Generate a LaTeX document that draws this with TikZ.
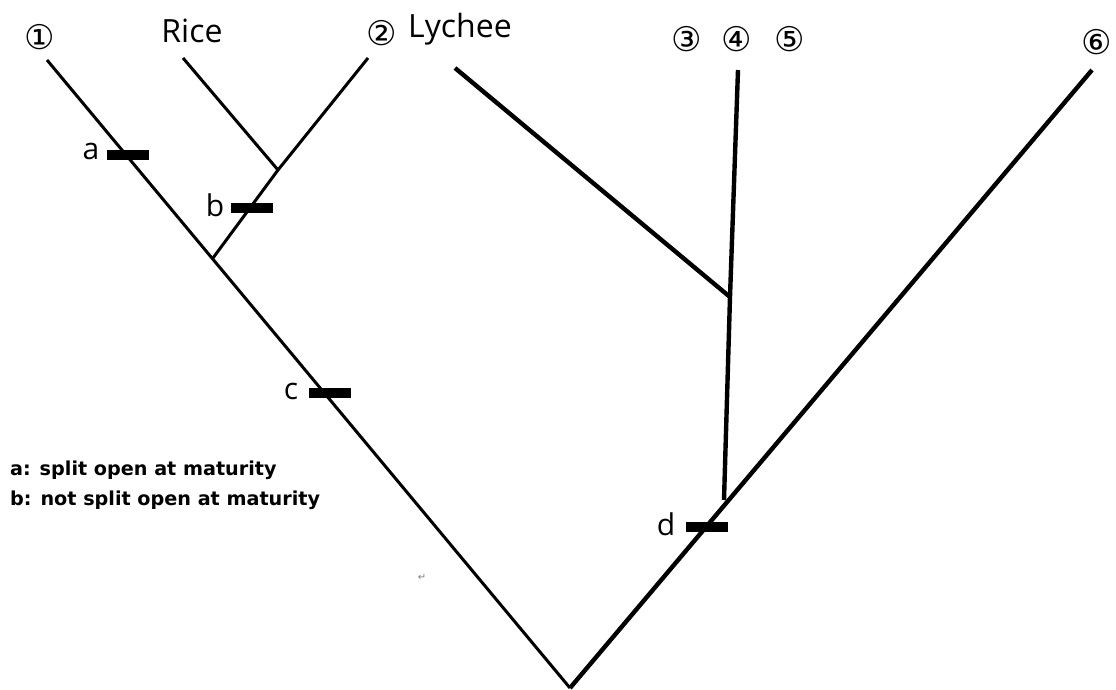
\documentclass[tikz,border=0pt]{standalone}
\usepackage{fontspec}
\setmainfont{Open Sans}
\newfontfamily\circfont{DejaVu Sans}
\begin{document}
\begin{tikzpicture}[x=1pt,y=-1pt,
  thin branch/.style={line width=3pt},
  thick branch/.style={line width=4.4pt},
  trait/.style={line width=10pt},
  taxon/.style={font=\fontsize{32}{34}\selectfont, inner sep=0pt},
  circnum/.style={font=\circfont\fontsize{34}{36}\selectfont, inner sep=0pt},
  traitlbl/.style={font=\fontsize{30}{32}\selectfont, inner sep=0pt},
  legend/.style={font=\circfont\bfseries\fontsize{19.2}{22}\selectfont, inner sep=0pt, anchor=west}]
\useasboundingbox (0,0) rectangle (1116,690);
% coordinates
\coordinate (root) at (570,688);
\coordinate (t1) at (47,60);
\coordinate (nAB) at (213,258);
\coordinate (nRice) at (278,170);
\coordinate (tRice) at (183,58);
\coordinate (t2) at (368,58);
\coordinate (tLy) at (455,68);
\coordinate (nLy) at (730,297);
\coordinate (t4) at (738,70);
\coordinate (nR) at (724,500);
\coordinate (t6) at (1092,70);
% branches
\draw[thin branch] (t1) -- (root);
\draw[thin branch] (nAB) -- (nRice) -- (t2);
\draw[thin branch] (tRice) -- (nRice);
\draw[thick branch] (root) -- (t6);
\draw[thick branch] (nR) -- (nLy) -- (t4);
\draw[thick branch] (tLy) -- (nLy);
% trait bars
\coordinate (ma) at (128,155);
\coordinate (mb) at (252,208);
\coordinate (mc) at (330,393);
\coordinate (md) at (707,527);
\draw[trait] ([xshift=-21pt]ma) -- ([xshift=21pt]ma);
\draw[trait] ([xshift=-21pt]mb) -- ([xshift=21pt]mb);
\draw[trait] ([xshift=-21pt]mc) -- ([xshift=21pt]mc);
\draw[trait] ([xshift=-21pt]md) -- ([xshift=21pt]md);
\node[traitlbl] (la) at (91,151) {a};
\node[traitlbl] (lb) at (215,205) {b};
\node[traitlbl] (lc) at (291,391) {c};
\node[traitlbl] (ld) at (666,524) {d};
% taxa labels
\node[taxon] (rice) at (192,31) {Rice};
\node[taxon, anchor=west] (ly) at (408,29) {Lychee};
\node[circnum] (c1) at (40,37) {①};
\node[circnum] (c2) at (382,33) {②};
\node[circnum] (c3) at (687,39) {③};
\node[circnum] (c4) at (737,39) {④};
\node[circnum] (c5) at (790,39) {⑤};
\node[circnum] (c6) at (1097,42) {⑥};
% legend
\node[legend] (leg1) at (10,470) {a: split open at maturity};
\node[legend] (leg2) at (10,500) {b: not split open at maturity};
\node[font=\circfont\fontsize{10}{12}\selectfont, text=gray, inner sep=0pt] (ret) at (422,577) {↵};
\end{tikzpicture}
\end{document}
